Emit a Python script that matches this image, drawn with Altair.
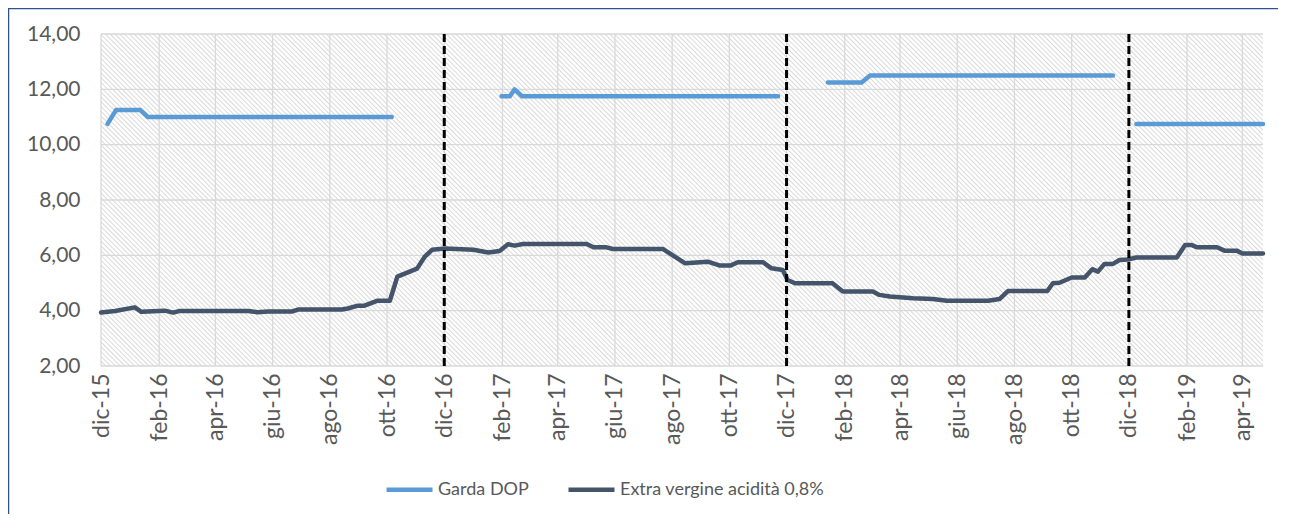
import math
import altair as alt
import pandas as pd

# ---------------- data ----------------
series_names = ["Garda DOP", "Extra vergine acidità 0,8%"]
series_colors = ["#5B9BD5", "#44546A"]

extra_dates = [
    "2015-12-01", "2015-12-16", "2016-01-06", "2016-01-13", "2016-02-07", "2016-02-16",
    "2016-02-23", "2016-05-06", "2016-05-16", "2016-05-27", "2016-06-22", "2016-06-28",
    "2016-08-14", "2016-08-20", "2016-08-31", "2016-09-07", "2016-09-21", "2016-10-04",
    "2016-10-12", "2016-11-02", "2016-11-10", "2016-11-18", "2016-12-02", "2017-01-01",
    "2017-01-17", "2017-01-29", "2017-02-07", "2017-02-14", "2017-02-23", "2017-05-02",
    "2017-05-09", "2017-05-23", "2017-05-30", "2017-07-22", "2017-08-15", "2017-09-08",
    "2017-09-21", "2017-10-02", "2017-10-10", "2017-11-06", "2017-11-15", "2017-11-27",
    "2017-12-02", "2017-12-10", "2018-01-19", "2018-01-30", "2018-03-03", "2018-03-10",
    "2018-03-21", "2018-04-15", "2018-05-06", "2018-05-21", "2018-07-04", "2018-07-16",
    "2018-07-25", "2018-09-05", "2018-09-11", "2018-09-18", "2018-10-01", "2018-10-15",
    "2018-10-23", "2018-10-29", "2018-11-05", "2018-11-14", "2018-11-21", "2018-11-30",
    "2018-12-09", "2019-01-21", "2019-01-30", "2019-02-06", "2019-02-12", "2019-03-05",
    "2019-03-13", "2019-03-26", "2019-04-01", "2019-04-23",
]
extra_values = [
    3.93, 3.99, 4.12, 3.96, 4.00, 3.93,
    3.99, 3.99, 3.94, 3.97, 3.97, 4.04,
    4.04, 4.08, 4.18, 4.18, 4.36, 4.36,
    5.23, 5.52, 5.94, 6.20, 6.25, 6.20,
    6.10, 6.16, 6.40, 6.35, 6.41, 6.41,
    6.29, 6.29, 6.23, 6.23, 5.71, 5.77,
    5.63, 5.63, 5.75, 5.75, 5.53, 5.47,
    5.11, 4.99, 4.99, 4.69, 4.69, 4.57,
    4.51, 4.45, 4.42, 4.36, 4.36, 4.42,
    4.71, 4.71, 4.99, 5.01, 5.20, 5.20,
    5.50, 5.41, 5.69, 5.69, 5.83, 5.85,
    5.92, 5.92, 6.37, 6.37, 6.29, 6.29,
    6.17, 6.17, 6.07, 6.07,
]

garda_segments = [
    (["2015-12-08", "2015-12-17", "2016-01-12", "2016-01-20", "2016-10-06"],
     [10.75, 11.25, 11.25, 11.00, 11.00]),
    (["2017-01-31", "2017-02-09", "2017-02-14", "2017-02-22", "2017-11-22"],
     [11.75, 11.75, 12.00, 11.75, 11.75]),
    (["2018-01-14", "2018-02-19", "2018-02-28", "2018-11-14"],
     [12.25, 12.25, 12.50, 12.50]),
    (["2018-12-09", "2019-04-23"],
     [10.75, 10.75]),
]

x_domain = ["2015-12-01", "2019-04-23"]
y_domain = [2, 14]
y_ticks = [2, 4, 6, 8, 10, 12, 14]
x_ticks = [
    "2015-12-01", "2016-02-01", "2016-04-01", "2016-06-01", "2016-08-01", "2016-10-01",
    "2016-12-01", "2017-02-01", "2017-04-01", "2017-06-01", "2017-08-01", "2017-10-01",
    "2017-12-01", "2018-02-01", "2018-04-01", "2018-06-01", "2018-08-01", "2018-10-01",
    "2018-12-01", "2019-02-01", "2019-04-01",
]
year_breaks = ["2016-12-01", "2017-12-01", "2018-12-01"]
month_names_it = ["gen", "feb", "mar", "apr", "mag", "giu", "lug", "ago", "set", "ott", "nov", "dic"]

# ---------------- tables ----------------
rows = []
for d, v in zip(extra_dates, extra_values):
    rows.append({"date": d, "value": v, "series": series_names[1], "seg": "e"})
for i, (ds, vs) in enumerate(garda_segments):
    for d, v in zip(ds, vs):
        rows.append({"date": d, "value": v, "series": series_names[0], "seg": f"g{i}"})
lines_df = pd.DataFrame(rows)

bg_df = pd.DataFrame({"date": [x_domain[0]], "date2": [x_domain[1]],
                      "lo": [y_domain[0]], "hi": [y_domain[1]]})
xgrid_df = pd.DataFrame({"date": x_ticks})
ygrid_df = pd.DataFrame({"value": y_ticks})
breaks_df = pd.DataFrame({"date": year_breaks})


def dt(s):
    y, m, d = (int(p) for p in s.split("-"))
    return alt.DateTime(year=y, month=m, date=d, utc=True)


W, H = 1162, 332
FONT = "Lato"
LABEL_COLOR = "#595959"

# ---------------- hatch gradient for the plot background ----------------
r = H / W
k = (1 + r) / (1 + r * r)
period = 3.4
n = int(round((W + H) / math.sqrt(2) / period))
stops = []
for i in range(n):
    stops.append(alt.GradientStop(offset=i / n, color="#dadada"))
    stops.append(alt.GradientStop(offset=(i + 0.3) / n, color="#ffffff"))
    stops.append(alt.GradientStop(offset=(i + 0.7) / n, color="#ffffff"))
stops.append(alt.GradientStop(offset=1.0, color="#dadada"))
hatch = alt.Gradient(gradient="linear", stops=stops, x1=0, y1=1, x2=k, y2=1 - k * r)

# ---------------- scales / axes ----------------
month_expr = "[" + ",".join(f"'{m}'" for m in month_names_it) + "]"
x_axis = alt.Axis(
    values=[dt(s) for s in x_ticks],
    labelExpr=month_expr + "[utcmonth(datum.value)] + '-' + utcFormat(datum.value, '%y')",
    labelAngle=270, labelFont=FONT, labelFontSize=23, labelColor=LABEL_COLOR,
    labelPadding=7, labelOverlap=False, labelBound=False, labelFlush=False,
    ticks=False, domain=False, grid=False, title=None,
)
y_axis = alt.Axis(
    values=y_ticks,
    labelExpr="replace(format(datum.value, '.2f'), '.', ',')",
    labelFont=FONT, labelFontSize=21, labelColor=LABEL_COLOR, labelPadding=21,
    ticks=False, domain=False, grid=False, title=None,
)
x_scale = alt.Scale(type="utc", domain=[dt(x_domain[0]), dt(x_domain[1])], nice=False)
y_scale = alt.Scale(domain=y_domain, nice=False, zero=False)

X = alt.X("date:T", scale=x_scale, axis=x_axis)
Y = alt.Y("value:Q", scale=y_scale, axis=y_axis)

# ---------------- layers ----------------
background = alt.Chart(bg_df).mark_rect(fill=hatch, strokeWidth=0).encode(
    x=alt.X("date:T", scale=x_scale, axis=x_axis),
    x2="date2:T",
    y=alt.Y("lo:Q", scale=y_scale, axis=y_axis),
    y2="hi:Q",
)

vgrid = alt.Chart(xgrid_df).mark_rule(color="#d9d9d9", strokeWidth=1.3).encode(x=X)
hgrid = alt.Chart(ygrid_df).mark_rule(color="#d9d9d9", strokeWidth=1.3).encode(y=Y)

lines = alt.Chart(lines_df).mark_line(
    strokeWidth=4.5, strokeJoin="round", strokeCap="round"
).encode(
    x=X,
    y=Y,
    color=alt.Color(
        "series:N",
        scale=alt.Scale(domain=series_names, range=series_colors),
        sort=series_names,
        legend=alt.Legend(
            orient="none", legendX=283, legendY=430, direction="horizontal",
            title=None, symbolType="stroke", symbolSize=2116, symbolStrokeWidth=4.5,
            labelFont=FONT, labelFontSize=18, labelColor=LABEL_COLOR,
            labelLimit=500, labelOffset=3, columnPadding=30,
        ),
    ),
    detail="seg:N",
    order=alt.Order("date:T"),
)

breaks = alt.Chart(breaks_df).mark_rule(
    color="black", strokeWidth=3, strokeDash=[8, 4]
).encode(x=X)

frame = alt.Chart(pd.DataFrame({"a": [0]})).mark_rect(
    filled=False, stroke="#2F528F", strokeWidth=1.5
).encode(
    x=alt.value(-92.5), x2=alt.value(W + 200),
    y=alt.value(-25.5), y2=alt.value(H + 400),
)

chart = alt.layer(background, vgrid, hgrid, lines, breaks, frame).properties(
    width=W, height=H,
    autosize=alt.AutoSizeParams(type="none"),
    padding={"left": 93, "top": 26, "right": 15, "bottom": 148},
    background="white",
).configure_view(stroke=None)

chart.save("out.html", embed_options={"renderer": "svg", "actions": False})
